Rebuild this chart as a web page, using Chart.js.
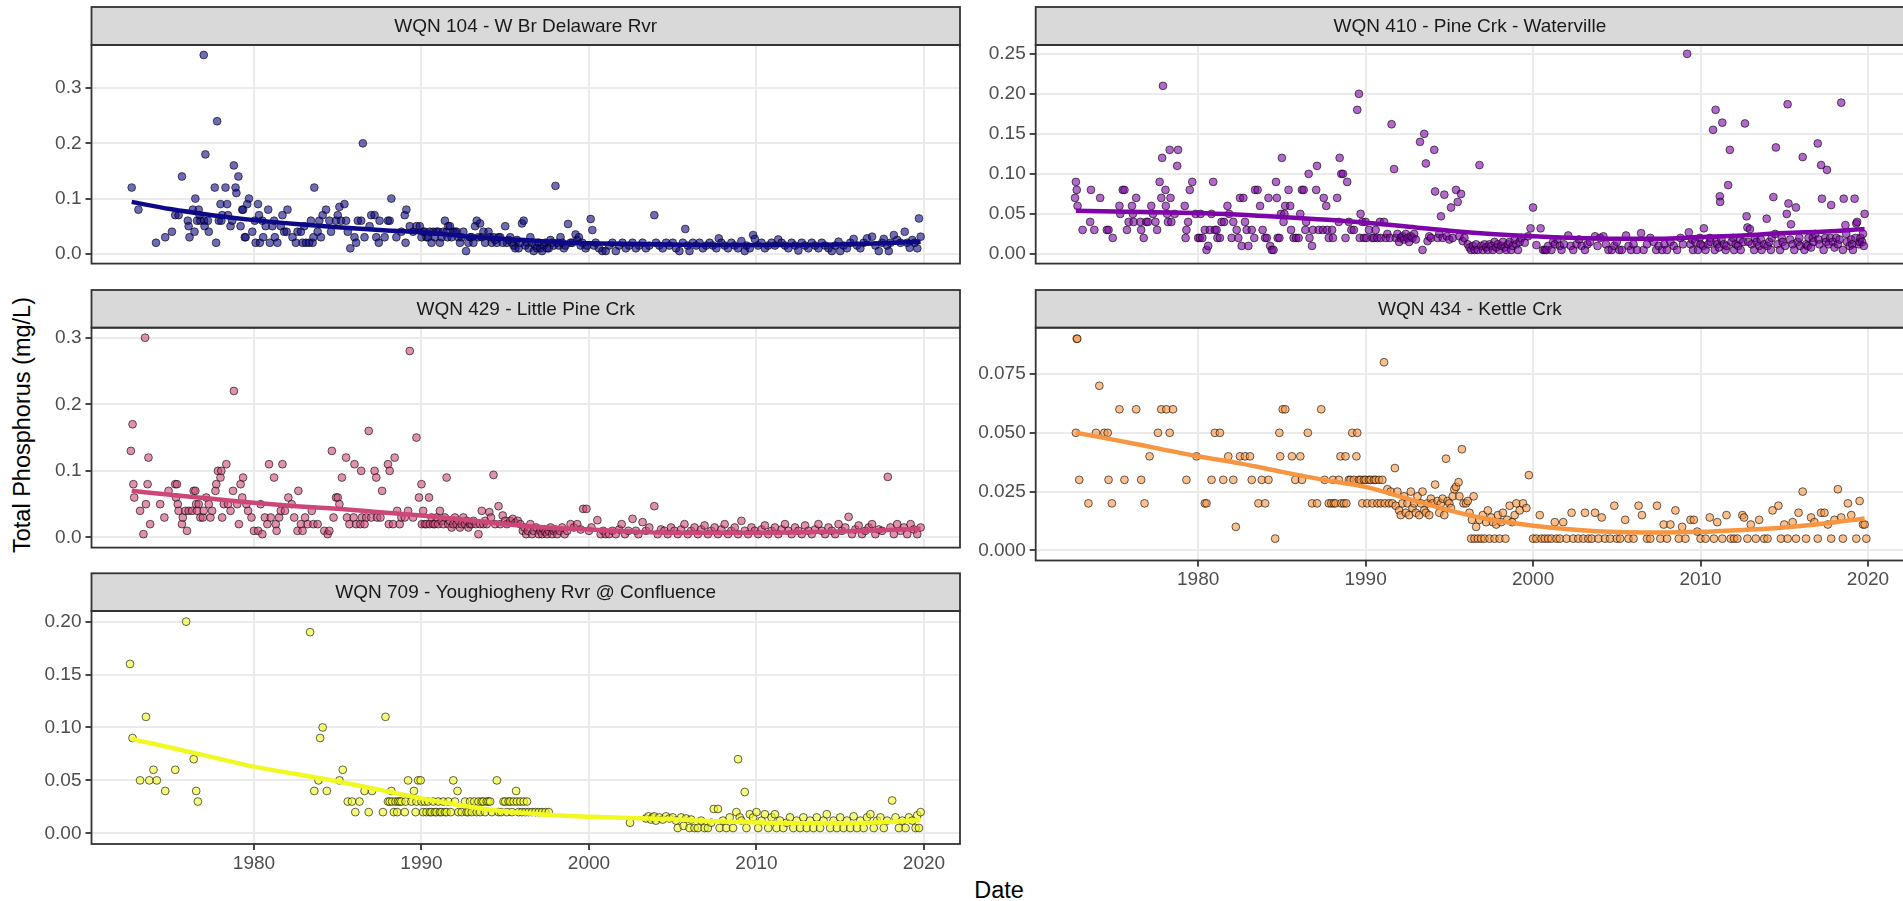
<!DOCTYPE html>
<html>
<head>
<meta charset="utf-8">
<title>Total Phosphorus by station</title>
<script src="https://cdn.jsdelivr.net/npm/chart.js@4.4.1/dist/chart.umd.min.js"></script>
<style>
  html, body { margin: 0; padding: 0; background: #ffffff; }
  #wrap { position: relative; width: 1903px; height: 901px; overflow: hidden; background: #ffffff; }
  #wrap canvas { position: absolute; }
  .axis-title { position: absolute; font-family: "Liberation Sans", Arial, sans-serif; font-size: 23.5px; color: #000000; text-align: center; white-space: nowrap; }
  #ytitle { left: -178px; top: 410px; width: 400px; height: 30px; line-height: 30px; transform: rotate(-90deg); }
  #xtitle { left: 899px; top: 875px; width: 200px; height: 30px; line-height: 30px; }
</style>
</head>
<body>
<div id="wrap">
  <div id="ytitle" class="axis-title">Total Phosphorus (mg/L)</div>
  <div id="xtitle" class="axis-title">Date</div>
</div>
<script>
// ---- Observations: [decimal year, total phosphorus mg/L] ----
const wqn104 = [[1972.7,.12],[1973.1,.08],[1974.15,.02],[1974.7,.03],[1975.1,.04],[1975.3,.07],[1975.5,.07],[1975.7,.14],[1976.05,.06],[1976.1,.05],[1976.15,.03],[1976.35,.08],[1976.45,.04],[1976.5,.10],[1976.6,.06],[1976.7,.08],[1976.75,.07],[1976.8,.06],[1977.0,.36],[1977.02,.06],[1977.05,.05],[1977.1,.18],[1977.25,.06],[1977.3,.04],[1977.66,.12],[1977.74,.02],[1977.8,.24],[1977.9,.06],[1978.0,.09],[1978.05,.06],[1978.1,.07],[1978.3,.12],[1978.4,.09],[1978.45,.07],[1978.6,.05],[1978.7,.06],[1978.8,.16],[1978.9,.12],[1978.95,.11],[1979.07,.14],[1979.2,.05],[1979.3,.08],[1979.35,.08],[1979.45,.03],[1979.5,.03],[1979.6,.09],[1979.7,.10],[1979.9,.04],[1980.05,.06],[1980.1,.02],[1980.24,.09],[1980.3,.07],[1980.35,.02],[1980.5,.06],[1980.55,.03],[1980.7,.05],[1980.85,.08],[1980.95,.02],[1981.1,.05],[1981.2,.06],[1981.25,.03],[1981.4,.02],[1981.6,.05],[1981.7,.07],[1981.8,.04],[1981.95,.04],[1982.0,.08],[1982.3,.03],[1982.5,.02],[1982.6,.04],[1982.8,.04],[1982.9,.02],[1983.0,.05],[1983.1,.02],[1983.3,.02],[1983.4,.06],[1983.5,.02],[1983.55,.03],[1983.6,.12],[1983.8,.04],[1983.9,.06],[1984.0,.03],[1984.1,.07],[1984.3,.08],[1984.5,.06],[1984.6,.04],[1984.9,.06],[1985.0,.07],[1985.1,.085],[1985.2,.06],[1985.4,.09],[1985.5,.06],[1985.6,.04],[1985.75,.01],[1986.0,.03],[1986.1,.02],[1986.2,.06],[1986.4,.06],[1986.5,.20],[1986.6,.03],[1986.9,.05],[1987.0,.07],[1987.2,.07],[1987.3,.03],[1987.45,.02],[1987.5,.06],[1987.8,.03],[1988.0,.06],[1988.1,.06],[1988.2,.10],[1988.5,.03],[1988.8,.04],[1989.0,.07],[1989.05,.02],[1989.1,.08],[1989.3,.05],[1989.5,.04],[1989.7,.05],[1989.9,.05],[1990.0,.03],[1990.1,.04],[1990.2,.04],[1990.3,.03],[1990.4,.03],[1990.5,.04],[1990.6,.02],[1990.7,.04],[1990.8,.03],[1990.9,.04],[1991.0,.04],[1991.1,.02],[1991.2,.03],[1991.3,.04],[1991.4,.06],[1991.5,.04],[1991.55,.03],[1991.6,.05],[1991.7,.05],[1991.8,.03],[1991.9,.04],[1992.0,.04],[1992.1,.04],[1992.2,.03],[1992.3,.02],[1992.4,.03],[1992.5,.04],[1992.66,.005],[1992.8,.02],[1992.9,.03],[1993.0,.03],[1993.1,.02],[1993.2,.05],[1993.3,.06],[1993.4,.03],[1993.5,.055],[1993.6,.03],[1993.7,.04],[1993.8,.02],[1994.0,.04],[1994.1,.03],[1994.2,.02],[1994.3,.03],[1994.4,.025],[1994.5,.02],[1994.6,.03],[1994.7,.03],[1994.85,.02],[1995.0,.05],[1995.1,.02],[1995.2,.025],[1995.3,.03],[1995.4,.02],[1995.5,.015],[1995.6,.01],[1995.7,.025],[1995.8,.01],[1995.9,.02],[1996.0,.055],[1996.1,.06],[1996.2,.015],[1996.3,.02],[1996.4,.01],[1996.5,.03],[1996.6,.02],[1996.7,.005],[1996.8,.015],[1996.9,.01],[1997.0,.02],[1997.1,.01],[1997.2,.005],[1997.3,.015],[1997.4,.02],[1997.5,.01],[1997.6,.01],[1997.7,.025],[1997.8,.02],[1997.9,.015],[1998.0,.123],[1998.1,.02],[1998.2,.015],[1998.3,.03],[1998.4,.02],[1998.5,.01],[1998.6,.015],[1998.75,.054],[1998.9,.02],[1999.0,.02],[1999.2,.035],[1999.3,.025],[1999.4,.03],[1999.5,.015],[1999.6,.02],[1999.8,.01],[1999.9,.015],[2000.1,.063],[2000.2,.043],[2000.3,.015],[2000.4,.02],[2000.6,.01],[2000.8,.005],[2001.0,.005],[2001.2,.015],[2001.4,.02],[2001.6,.005],[2001.8,.015],[2002.0,.02],[2002.2,.01],[2002.4,.015],[2002.6,.02],[2002.8,.01],[2003.0,.015],[2003.2,.02],[2003.4,.01],[2003.6,.015],[2003.9,.07],[2004.0,.02],[2004.2,.015],[2004.4,.01],[2004.6,.02],[2004.8,.015],[2005.0,.02],[2005.2,.01],[2005.4,.005],[2005.6,.02],[2005.75,.045],[2005.9,.015],[2006.0,.005],[2006.2,.02],[2006.4,.015],[2006.6,.02],[2006.8,.01],[2007.0,.015],[2007.2,.02],[2007.4,.015],[2007.6,.01],[2007.75,.028],[2007.9,.02],[2008.1,.015],[2008.3,.01],[2008.5,.02],[2008.7,.015],[2008.9,.01],[2009.1,.023],[2009.3,.005],[2009.4,.015],[2009.6,.01],[2009.8,.034],[2009.9,.027],[2010.1,.015],[2010.3,.02],[2010.5,.01],[2010.7,.015],[2010.9,.02],[2011.1,.015],[2011.3,.026],[2011.5,.02],[2011.7,.015],[2011.9,.01],[2012.1,.02],[2012.3,.015],[2012.5,.006],[2012.7,.02],[2012.9,.015],[2013.1,.01],[2013.3,.02],[2013.5,.015],[2013.7,.01],[2013.9,.02],[2014.1,.015],[2014.3,.01],[2014.5,.005],[2014.7,.015],[2014.9,.022],[2015.0,.005],[2015.2,.015],[2015.4,.01],[2015.6,.02],[2015.8,.027],[2016.0,.015],[2016.2,.01],[2016.4,.02],[2016.6,.028],[2016.9,.031],[2017.1,.015],[2017.3,.005],[2017.5,.02],[2017.6,.027],[2017.8,.015],[2017.9,.005],[2018.0,.02],[2018.2,.034],[2018.4,.025],[2018.6,.02],[2018.85,.04],[2019.0,.02],[2019.15,.011],[2019.3,.025],[2019.45,.02],[2019.6,.01],[2019.7,.064],[2019.8,.031]];

const wqn410 = [[1972.7,.09],[1972.75,.08],[1972.65,.07],[1972.8,.06],[1973.1,.03],[1973.55,.04],[1973.6,.08],[1973.8,.03],[1974.15,.07],[1974.55,.03],[1974.65,.03],[1974.9,.02],[1975.3,.06],[1975.35,.05],[1975.5,.08],[1975.6,.08],[1975.75,.03],[1975.85,.04],[1976.05,.06],[1976.1,.05],[1976.15,.04],[1976.3,.07],[1976.55,.04],[1976.6,.03],[1976.75,.02],[1976.9,.04],[1977.0,.04],[1977.2,.06],[1977.3,.05],[1977.45,.04],[1977.55,.03],[1977.7,.09],[1977.8,.07],[1977.85,.12],[1977.9,.21],[1978.05,.08],[1978.07,.06],[1978.15,.05],[1978.2,.04],[1978.3,.13],[1978.35,.07],[1978.4,.04],[1978.6,.05],[1978.75,.11],[1978.8,.13],[1979.2,.06],[1979.3,.03],[1979.25,.02],[1979.4,.04],[1979.5,.08],[1979.65,.09],[1979.85,.05],[1980.0,.02],[1980.1,.02],[1980.15,.05],[1980.25,.02],[1980.4,.03],[1980.5,.005],[1980.6,.01],[1980.7,.03],[1980.8,.05],[1980.9,.09],[1981.0,.03],[1981.1,.03],[1981.15,.02],[1981.3,.02],[1981.4,.04],[1981.55,.04],[1981.75,.06],[1981.85,.05],[1982.0,.02],[1982.1,.04],[1982.3,.03],[1982.4,.02],[1982.5,.07],[1982.6,.01],[1982.7,.07],[1982.8,.04],[1982.9,.03],[1983.0,.01],[1983.2,.03],[1983.35,.02],[1983.4,.08],[1983.55,.08],[1983.7,.06],[1983.85,.03],[1984.0,.02],[1984.1,.02],[1984.2,.07],[1984.3,.01],[1984.4,.005],[1984.5,.005],[1984.65,.09],[1984.7,.07],[1984.75,.02],[1984.85,.02],[1984.95,.05],[1985.0,.12],[1985.1,.04],[1985.15,.05],[1985.2,.06],[1985.4,.08],[1985.5,.06],[1985.55,.03],[1985.7,.02],[1985.85,.02],[1986.0,.02],[1986.1,.05],[1986.2,.08],[1986.3,.08],[1986.4,.03],[1986.45,.04],[1986.6,.10],[1986.65,.02],[1986.8,.01],[1986.85,.03],[1987.05,.08],[1987.1,.11],[1987.2,.03],[1987.45,.03],[1987.5,.07],[1987.65,.06],[1987.7,.03],[1987.8,.02],[1988.0,.03],[1988.05,.02],[1988.3,.07],[1988.4,.04],[1988.45,.12],[1988.55,.10],[1988.65,.10],[1988.8,.02],[1988.9,.09],[1989.0,.04],[1989.15,.03],[1989.3,.03],[1989.5,.18],[1989.6,.20],[1989.7,.05],[1989.65,.02],[1989.8,.04],[1989.9,.02],[1990.0,.04],[1990.05,.02],[1990.2,.03],[1990.4,.02],[1990.5,.02],[1990.6,.03],[1990.7,.02],[1990.85,.04],[1990.9,.02],[1991.1,.04],[1991.2,.02],[1991.3,.025],[1991.45,.02],[1991.55,.162],[1991.7,.106],[1991.8,.02],[1991.9,.025],[1992.0,.015],[1992.1,.02],[1992.2,.022],[1992.3,.018],[1992.4,.025],[1992.5,.02],[1992.6,.015],[1992.7,.022],[1992.8,.02],[1992.9,.025],[1993.0,.018],[1993.25,.14],[1993.4,.005],[1993.5,.15],[1993.6,.113],[1993.7,.016],[1993.8,.022],[1993.9,.02],[1994.1,.13],[1994.15,.078],[1994.3,.02],[1994.4,.025],[1994.5,.047],[1994.6,.02],[1994.7,.074],[1994.85,.022],[1995.0,.018],[1995.1,.058],[1995.2,.02],[1995.4,.08],[1995.5,.065],[1995.6,.022],[1995.7,.075],[1995.8,.016],[1995.9,.02],[1996.1,.012],[1996.2,.008],[1996.3,.005],[1996.4,.01],[1996.5,.005],[1996.6,.012],[1996.7,.005],[1996.8,.111],[1996.9,.01],[1997.0,.005],[1997.1,.012],[1997.2,.008],[1997.3,.005],[1997.4,.012],[1997.5,.01],[1997.6,.005],[1997.7,.015],[1997.8,.008],[1997.9,.012],[1998.0,.005],[1998.1,.01],[1998.2,.015],[1998.3,.008],[1998.4,.005],[1998.5,.012],[1998.6,.015],[1998.7,.005],[1998.8,.01],[1998.9,.018],[1999.0,.012],[1999.1,.005],[1999.2,.015],[1999.3,.02],[1999.5,.014],[1999.7,.022],[1999.85,.032],[2000.0,.058],[2000.2,.011],[2000.45,.032],[2000.6,.005],[2000.7,.005],[2000.8,.005],[2000.9,.01],[2001.1,.005],[2001.2,.015],[2001.3,.012],[2001.45,.018],[2001.6,.01],[2001.7,.005],[2001.85,.012],[2002.1,.023],[2002.25,.01],[2002.4,.005],[2002.6,.012],[2002.75,.018],[2002.9,.01],[2003.1,.005],[2003.25,.012],[2003.4,.015],[2003.7,.022],[2003.85,.01],[2004.0,.02],[2004.2,.022],[2004.35,.012],[2004.5,.005],[2004.7,.005],[2004.85,.01],[2005.0,.015],[2005.15,.005],[2005.3,.005],[2005.55,.023],[2005.7,.01],[2005.85,.005],[2006.0,.012],[2006.2,.005],[2006.45,.026],[2006.6,.005],[2006.8,.012],[2007.0,.02],[2007.2,.015],[2007.35,.005],[2007.5,.01],[2007.7,.005],[2007.85,.012],[2008.0,.005],[2008.2,.015],[2008.4,.01],[2008.6,.005],[2008.8,.02],[2008.95,.012],[2009.2,.25],[2009.3,.027],[2009.4,.012],[2009.5,.018],[2009.55,.005],[2009.7,.015],[2009.85,.005],[2009.95,.02],[2010.0,.012],[2010.15,.01],[2010.2,.032],[2010.3,.005],[2010.45,.012],[2010.55,.02],[2010.6,.015],[2010.75,.155],[2010.85,.005],[2010.9,.18],[2010.95,.015],[2011.0,.012],[2011.1,.008],[2011.15,.072],[2011.17,.065],[2011.25,.018],[2011.3,.164],[2011.4,.012],[2011.5,.005],[2011.55,.01],[2011.65,.086],[2011.75,.13],[2011.85,.015],[2011.95,.02],[2012.0,.005],[2012.1,.012],[2012.25,.01],[2012.35,.018],[2012.4,.005],[2012.55,.015],[2012.65,.163],[2012.75,.047],[2012.8,.033],[2012.85,.015],[2012.95,.031],[2013.05,.012],[2013.2,.005],[2013.25,.02],[2013.35,.015],[2013.5,.01],[2013.6,.018],[2013.65,.005],[2013.8,.012],[2013.95,.044],[2014.0,.01],[2014.1,.015],[2014.2,.005],[2014.25,.02],[2014.35,.071],[2014.45,.025],[2014.5,.133],[2014.6,.012],[2014.75,.005],[2014.85,.02],[2014.9,.015],[2015.05,.01],[2015.15,.05],[2015.2,.187],[2015.25,.063],[2015.35,.018],[2015.4,.037],[2015.5,.012],[2015.6,.005],[2015.7,.058],[2015.8,.015],[2015.9,.02],[2015.95,.01],[2016.1,.121],[2016.2,.005],[2016.3,.012],[2016.4,.01],[2016.45,.02],[2016.6,.008],[2016.7,.02],[2016.75,.015],[2016.85,.025],[2017.0,.138],[2017.05,.018],[2017.1,.012],[2017.2,.111],[2017.25,.069],[2017.35,.005],[2017.45,.02],[2017.5,.015],[2017.55,.105],[2017.65,.012],[2017.75,.02],[2017.8,.061],[2017.9,.015],[2018.0,.008],[2018.1,.02],[2018.2,.012],[2018.3,.018],[2018.4,.189],[2018.5,.005],[2018.55,.069],[2018.65,.036],[2018.7,.025],[2018.75,.015],[2018.9,.01],[2019.0,.018],[2019.05,.012],[2019.1,.005],[2019.2,.069],[2019.25,.02],[2019.3,.038],[2019.35,.04],[2019.45,.012],[2019.5,.015],[2019.55,.02],[2019.65,.015],[2019.7,.025],[2019.75,.01],[2019.8,.05]];

const wqn429 = [[1972.65,.13],[1972.75,.17],[1972.8,.08],[1972.85,.06],[1973.2,.04],[1973.4,.005],[1973.5,.30],[1973.55,.05],[1973.65,.08],[1973.7,.12],[1973.8,.02],[1974.4,.05],[1974.65,.03],[1974.9,.07],[1975.3,.08],[1975.4,.08],[1975.35,.06],[1975.45,.05],[1975.5,.04],[1975.7,.02],[1975.75,.03],[1976.0,.01],[1975.9,.04],[1976.1,.04],[1976.3,.04],[1976.4,.07],[1976.5,.07],[1976.55,.05],[1976.7,.05],[1976.6,.04],[1976.8,.03],[1976.95,.03],[1977.0,.04],[1977.15,.06],[1977.3,.05],[1977.4,.03],[1977.5,.04],[1977.7,.07],[1977.75,.08],[1977.85,.10],[1978.0,.09],[1978.05,.10],[1978.1,.03],[1978.2,.05],[1978.35,.11],[1978.45,.05],[1978.6,.04],[1978.75,.07],[1978.8,.22],[1979.0,.05],[1979.1,.02],[1979.2,.08],[1979.35,.09],[1979.3,.06],[1979.55,.05],[1979.65,.04],[1979.85,.03],[1980.0,.01],[1980.25,.01],[1980.4,.05],[1980.5,.005],[1980.65,.03],[1980.8,.02],[1980.9,.11],[1981.0,.03],[1981.2,.09],[1981.3,.02],[1981.35,.01],[1981.5,.03],[1981.6,.04],[1981.7,.11],[1981.85,.04],[1982.05,.06],[1982.25,.05],[1982.4,.03],[1982.6,.01],[1982.65,.07],[1982.8,.02],[1982.9,.01],[1983.05,.03],[1983.2,.02],[1983.45,.04],[1983.55,.02],[1983.8,.02],[1984.2,.01],[1984.4,.005],[1984.5,.01],[1984.65,.13],[1984.75,.03],[1984.9,.06],[1985.0,.06],[1985.1,.05],[1985.25,.09],[1985.5,.12],[1985.55,.03],[1985.7,.02],[1985.95,.03],[1986.0,.11],[1986.1,.02],[1986.35,.02],[1986.4,.10],[1986.45,.03],[1986.6,.02],[1986.7,.03],[1986.85,.16],[1987.0,.03],[1987.2,.10],[1987.3,.09],[1987.35,.03],[1987.55,.03],[1987.65,.07],[1988.0,.11],[1988.05,.02],[1988.1,.10],[1988.3,.02],[1988.4,.12],[1988.55,.04],[1988.7,.02],[1988.8,.03],[1989.0,.03],[1989.2,.04],[1989.3,.28],[1989.5,.03],[1989.7,.15],[1989.85,.06],[1990.0,.08],[1990.02,.02],[1990.1,.04],[1990.2,.02],[1990.3,.02],[1990.45,.06],[1990.5,.02],[1990.6,.03],[1990.7,.02],[1990.8,.02],[1990.9,.03],[1991.1,.04],[1991.0,.02],[1991.2,.025],[1991.3,.02],[1991.4,.03],[1991.5,.09],[1991.6,.02],[1991.7,.025],[1991.8,.015],[1991.9,.02],[1992.0,.03],[1992.1,.02],[1992.2,.025],[1992.3,.015],[1992.4,.02],[1992.5,.03],[1992.6,.02],[1992.7,.025],[1992.8,.015],[1992.9,.02],[1993.0,.02],[1993.1,.025],[1993.25,.02],[1993.4,.005],[1993.5,.02],[1993.6,.04],[1993.7,.02],[1993.8,.025],[1993.9,.02],[1994.05,.038],[1994.15,.03],[1994.3,.094],[1994.4,.02],[1994.6,.047],[1994.7,.02],[1994.85,.033],[1995.0,.025],[1995.1,.02],[1995.3,.025],[1995.45,.028],[1995.6,.022],[1995.75,.025],[1995.9,.02],[1996.05,.01],[1996.15,.015],[1996.25,.005],[1996.35,.01],[1996.5,.02],[1996.6,.005],[1996.7,.01],[1996.85,.015],[1997.0,.005],[1997.1,.01],[1997.2,.005],[1997.3,.012],[1997.4,.008],[1997.5,.005],[1997.6,.01],[1997.7,.015],[1997.8,.005],[1997.9,.01],[1998.0,.012],[1998.1,.005],[1998.25,.01],[1998.4,.015],[1998.55,.005],[1998.7,.01],[1998.9,.02],[1999.1,.015],[1999.3,.02],[1999.5,.012],[1999.65,.043],[1999.85,.043],[2000.0,.01],[2000.15,.015],[2000.5,.026],[2000.7,.005],[2000.85,.01],[2001.0,.005],[2001.2,.005],[2001.4,.01],[2001.6,.005],[2001.8,.012],[2001.95,.02],[2002.15,.005],[2002.35,.01],[2002.6,.028],[2002.8,.01],[2002.95,.005],[2003.2,.023],[2003.4,.01],[2003.6,.015],[2003.9,.047],[2004.1,.005],[2004.3,.012],[2004.5,.01],[2004.7,.005],[2004.9,.015],[2005.1,.01],[2005.3,.005],[2005.5,.012],[2005.7,.02],[2005.9,.005],[2006.1,.01],[2006.3,.015],[2006.5,.005],[2006.7,.012],[2006.9,.018],[2007.1,.005],[2007.3,.01],[2007.5,.015],[2007.7,.005],[2007.9,.012],[2008.1,.02],[2008.3,.005],[2008.5,.01],[2008.7,.015],[2008.9,.005],[2009.1,.025],[2009.3,.01],[2009.5,.005],[2009.7,.015],[2009.9,.01],[2010.1,.005],[2010.3,.012],[2010.5,.018],[2010.7,.005],[2010.9,.01],[2011.1,.015],[2011.3,.005],[2011.5,.012],[2011.7,.02],[2011.9,.01],[2012.1,.005],[2012.3,.015],[2012.5,.01],[2012.7,.005],[2012.9,.018],[2013.1,.01],[2013.3,.005],[2013.5,.012],[2013.7,.02],[2013.9,.01],[2014.1,.005],[2014.3,.015],[2014.5,.01],[2014.7,.005],[2014.9,.02],[2015.1,.01],[2015.3,.015],[2015.5,.031],[2015.7,.005],[2015.9,.012],[2016.1,.018],[2016.3,.005],[2016.5,.01],[2016.7,.015],[2016.9,.02],[2017.1,.005],[2017.3,.012],[2017.5,.01],[2017.84,.091],[2018.0,.015],[2018.2,.005],[2018.4,.02],[2018.6,.01],[2018.8,.015],[2019.0,.005],[2019.2,.02],[2019.4,.012],[2019.6,.005],[2019.8,.015]];

const wqn434 = [[1972.75,.09],[1972.78,.09],[1972.7,.05],[1972.9,.03],[1973.45,.02],[1973.9,.05],[1974.1,.07],[1974.4,.05],[1974.6,.05],[1974.65,.03],[1974.85,.02],[1975.3,.06],[1975.6,.03],[1976.3,.06],[1976.6,.03],[1976.8,.02],[1977.1,.04],[1977.6,.05],[1977.8,.06],[1978.1,.06],[1978.3,.05],[1978.5,.06],[1979.3,.03],[1979.9,.04],[1980.4,.02],[1980.5,.02],[1980.8,.03],[1981.0,.05],[1981.3,.05],[1981.5,.03],[1981.8,.04],[1982.1,.03],[1982.25,.01],[1982.5,.04],[1982.8,.04],[1983.1,.04],[1983.2,.03],[1983.6,.02],[1983.8,.03],[1984.0,.02],[1984.2,.03],[1984.6,.005],[1984.85,.05],[1984.9,.04],[1985.05,.06],[1985.2,.06],[1985.6,.04],[1985.8,.03],[1986.1,.04],[1986.2,.03],[1986.55,.05],[1986.8,.02],[1987.1,.02],[1987.35,.06],[1987.55,.03],[1987.8,.02],[1987.95,.02],[1988.05,.03],[1988.1,.02],[1988.2,.02],[1988.4,.03],[1988.5,.04],[1988.55,.02],[1988.7,.02],[1988.8,.04],[1988.85,.02],[1989.0,.03],[1989.1,.03],[1989.2,.05],[1989.3,.03],[1989.45,.04],[1989.5,.05],[1989.6,.03],[1989.7,.03],[1989.8,.02],[1989.9,.03],[1990.0,.03],[1990.1,.02],[1990.2,.03],[1990.3,.03],[1990.4,.02],[1990.5,.03],[1990.6,.03],[1990.7,.02],[1990.8,.03],[1990.9,.02],[1991.0,.03],[1991.1,.08],[1991.15,.02],[1991.3,.026],[1991.4,.02],[1991.5,.025],[1991.6,.02],[1991.75,.035],[1991.8,.019],[1991.9,.025],[1992.0,.017],[1992.1,.015],[1992.2,.02],[1992.3,.023],[1992.4,.016],[1992.5,.02],[1992.6,.015],[1992.7,.025],[1992.8,.018],[1992.9,.02],[1993.0,.016],[1993.1,.023],[1993.2,.015],[1993.3,.02],[1993.4,.025],[1993.5,.017],[1993.6,.016],[1993.7,.02],[1993.8,.015],[1993.9,.022],[1994.0,.02],[1994.15,.028],[1994.3,.021],[1994.4,.016],[1994.5,.02],[1994.6,.022],[1994.7,.015],[1994.8,.039],[1994.9,.021],[1995.0,.02],[1995.1,.018],[1995.2,.023],[1995.3,.026],[1995.4,.027],[1995.55,.029],[1995.6,.023],[1995.75,.043],[1995.85,.02],[1996.0,.02],[1996.1,.021],[1996.2,.016],[1996.3,.005],[1996.35,.013],[1996.45,.023],[1996.5,.005],[1996.6,.01],[1996.7,.005],[1996.8,.013],[1996.9,.005],[1997.0,.015],[1997.1,.005],[1997.2,.012],[1997.3,.017],[1997.4,.005],[1997.5,.014],[1997.6,.012],[1997.7,.005],[1997.8,.011],[1997.9,.015],[1998.0,.005],[1998.1,.012],[1998.2,.016],[1998.35,.005],[1998.45,.013],[1998.6,.019],[1998.75,.012],[1998.9,.015],[1999.0,.02],[1999.2,.017],[1999.4,.02],[1999.6,.018],[1999.75,.032],[2000.0,.005],[2000.2,.005],[2000.4,.015],[2000.5,.005],[2000.7,.005],[2000.9,.005],[2001.1,.005],[2001.3,.012],[2001.4,.005],[2001.6,.005],[2001.8,.012],[2002.0,.005],[2002.3,.016],[2002.4,.005],[2002.7,.005],[2003.0,.005],[2003.1,.016],[2003.3,.005],[2003.5,.005],[2003.7,.016],[2003.9,.005],[2004.1,.014],[2004.3,.005],[2004.6,.005],[2004.85,.019],[2005.0,.005],[2005.2,.005],[2005.5,.013],[2005.7,.005],[2006.0,.005],[2006.3,.019],[2006.5,.015],[2006.8,.005],[2007.0,.005],[2007.4,.019],[2007.6,.005],[2007.8,.011],[2008.0,.005],[2008.2,.011],[2008.5,.017],[2008.7,.005],[2008.9,.01],[2009.1,.005],[2009.4,.013],[2009.6,.013],[2009.8,.008],[2010.0,.005],[2010.3,.005],[2010.55,.014],[2010.8,.005],[2011.0,.012],[2011.3,.005],[2011.55,.015],[2011.8,.005],[2012.0,.005],[2012.2,.005],[2012.5,.015],[2012.6,.014],[2012.8,.005],[2013.0,.011],[2013.3,.005],[2013.5,.013],[2013.8,.005],[2014.0,.005],[2014.3,.017],[2014.65,.019],[2014.8,.005],[2015.0,.011],[2015.2,.005],[2015.5,.012],[2015.7,.005],[2015.85,.016],[2016.1,.025],[2016.3,.005],[2016.6,.014],[2016.8,.012],[2017.0,.005],[2017.2,.016],[2017.4,.016],[2017.6,.011],[2017.8,.005],[2018.0,.013],[2018.2,.026],[2018.4,.014],[2018.5,.005],[2018.8,.02],[2019.0,.015],[2019.3,.005],[2019.5,.021],[2019.7,.011],[2019.8,.011],[2019.9,.005]];

const wqn709 = [[1972.6,.16],[1972.75,.09],[1973.2,.05],[1973.55,.11],[1973.75,.05],[1974.0,.06],[1974.2,.05],[1974.7,.04],[1975.3,.06],[1975.95,.20],[1976.4,.07],[1976.55,.04],[1976.65,.03],[1983.35,.19],[1983.6,.04],[1983.85,.05],[1983.95,.09],[1984.1,.10],[1984.35,.04],[1985.1,.05],[1985.3,.06],[1985.6,.03],[1985.85,.03],[1986.05,.02],[1986.3,.03],[1986.6,.04],[1986.85,.02],[1987.05,.04],[1987.7,.02],[1987.85,.11],[1988.0,.03],[1988.1,.03],[1988.2,.04],[1988.25,.03],[1988.35,.02],[1988.45,.03],[1988.55,.02],[1988.6,.03],[1988.7,.03],[1988.8,.03],[1989.0,.02],[1989.05,.03],[1989.2,.05],[1989.4,.03],[1989.55,.04],[1989.65,.02],[1989.7,.03],[1989.8,.05],[1989.95,.05],[1990.0,.03],[1990.1,.02],[1990.2,.03],[1990.3,.02],[1990.4,.03],[1990.5,.02],[1990.6,.02],[1990.7,.03],[1990.8,.02],[1990.9,.02],[1991.0,.03],[1991.1,.02],[1991.2,.02],[1991.3,.03],[1991.4,.02],[1991.5,.02],[1991.6,.03],[1991.75,.02],[1991.9,.05],[1992.0,.03],[1992.15,.04],[1992.2,.02],[1992.4,.02],[1992.6,.03],[1992.7,.02],[1992.8,.02],[1992.9,.03],[1993.0,.02],[1993.15,.03],[1993.3,.02],[1993.4,.03],[1993.5,.02],[1993.6,.03],[1993.7,.03],[1993.8,.02],[1993.9,.03],[1994.0,.03],[1994.1,.03],[1994.2,.02],[1994.5,.05],[1994.6,.02],[1994.75,.02],[1994.9,.03],[1995.0,.03],[1995.1,.02],[1995.2,.03],[1995.3,.03],[1995.4,.02],[1995.5,.03],[1995.65,.04],[1995.7,.03],[1995.8,.02],[1995.9,.03],[1996.0,.02],[1996.1,.03],[1996.2,.02],[1996.3,.03],[1996.4,.02],[1996.6,.02],[1996.8,.02],[1997.0,.02],[1997.2,.02],[1997.4,.02],[1997.6,.02],[2002.45,.01],[2003.4,.014],[2003.55,.016],[2003.7,.013],[2003.8,.015],[2003.9,.016],[2004.0,.012],[2004.2,.015],[2004.4,.013],[2004.6,.016],[2004.8,.014],[2005.0,.015],[2005.2,.012],[2005.3,.005],[2005.5,.015],[2005.65,.007],[2005.8,.014],[2006.0,.005],[2006.1,.013],[2006.3,.005],[2006.5,.005],[2006.7,.012],[2006.9,.005],[2007.1,.005],[2007.3,.01],[2007.45,.023],[2007.7,.023],[2007.8,.005],[2008.0,.012],[2008.2,.005],[2008.4,.015],[2008.6,.005],[2008.8,.02],[2008.9,.07],[2009.0,.015],[2009.1,.012],[2009.3,.039],[2009.4,.005],[2009.6,.018],[2009.8,.015],[2010.0,.02],[2010.1,.005],[2010.3,.012],[2010.5,.018],[2010.7,.005],[2010.9,.015],[2011.1,.018],[2011.2,.005],[2011.4,.012],[2011.6,.005],[2011.8,.01],[2012.0,.015],[2012.2,.005],[2012.4,.012],[2012.6,.005],[2012.8,.015],[2013.0,.005],[2013.2,.012],[2013.4,.005],[2013.6,.015],[2013.8,.005],[2014.0,.012],[2014.2,.018],[2014.4,.005],[2014.6,.012],[2014.8,.005],[2015.0,.015],[2015.2,.005],[2015.4,.012],[2015.6,.005],[2015.8,.016],[2016.0,.005],[2016.2,.012],[2016.4,.005],[2016.6,.015],[2016.8,.018],[2017.0,.005],[2017.2,.012],[2017.4,.015],[2017.6,.005],[2017.8,.012],[2018.1,.031],[2018.3,.015],[2018.5,.005],[2018.7,.012],[2018.9,.005],[2019.1,.015],[2019.3,.012],[2019.5,.005],[2019.6,.017],[2019.7,.005],[2019.8,.02]];

// ---- Smoothed trend (loess) for each station ----
const fit104 = [[1972.7,.094],[1975,.081],[1977.5,.070],[1980,.061],[1982.5,.054],[1985,.048],[1987.5,.043],[1990,.039],[1992.5,.032],[1995,.027],[1997.5,.022],[2000,.019],[2002.5,.018],[2005,.017],[2007.5,.016],[2010,.016],[2012.5,.016],[2015,.017],[2017.5,.019],[2019.8,.022]];
const fit410 = [[1972.7,.054],[1975,.053],[1980,.051],[1985,.046],[1990,.039],[1993,.033],[1995,.029],[1997.5,.025],[2000,.022],[2002.5,.020],[2005,.019],[2007.5,.019],[2010,.021],[2012.5,.023],[2015,.026],[2017.5,.028],[2019.8,.031]];
const fit429 = [[1972.7,.070],[1975,.064],[1977.5,.058],[1980,.052],[1982.5,.047],[1985,.043],[1987.5,.038],[1990,.033],[1992.5,.027],[1995,.020],[1997.5,.015],[2000,.012],[2002.5,.009],[2005,.007],[2007.5,.007],[2010,.007],[2012.5,.008],[2015,.009],[2017.5,.011],[2019.8,.013]];
const fit434 = [[1972.7,.050],[1975,.047],[1977.5,.0435],[1980,.040],[1982.5,.037],[1985,.0334],[1987.5,.030],[1990,.027],[1992.5,.022],[1995,.017],[1997.5,.013],[2000,.0105],[2002.5,.0088],[2005,.0078],[2007.5,.0076],[2010,.0079],[2012.5,.0087],[2015,.0097],[2017.5,.0115],[2019.8,.0136]];
const fit709 = [[1972.7,.089],[1975,.081],[1977.5,.072],[1980,.063],[1982.5,.056],[1985,.049],[1987.5,.041],[1990,.033],[1992.5,.026],[1995,.0205],[1997.5,.0175],[2000,.0157],[2002.5,.0145],[2005,.0132],[2007.5,.0115],[2010,.0102],[2012.5,.0096],[2015,.0096],[2017.5,.0105],[2019.8,.0126]];

// ---- Axis breaks ----
const yearTicks = [1980, 1990, 2000, 2010, 2020];

// ---- Facet layout (page pixels) ----
const FONT = '"Liberation Sans", Arial, Helvetica, sans-serif';
const X_MIN = 1970.3, X_MAX = 2022.15;

const panels = [
  { label: 'WQN 104 - W Br Delaware Rvr', obs: wqn104, fit: fit104, line: '#0D0887', fill: 'rgba(13,8,135,0.6)',
    yMin: -0.0177, yMax: 0.378, yStep: 0.1, digits: 1, xLabels: false,
    stripTop: 7, plotTop: 45, plotBottom: 277, plotLeft: 91.5, plotRight: 962.7 },
  { label: 'WQN 410 - Pine Crk - Waterville', obs: wqn410, fit: fit410, line: '#7E03A8', fill: 'rgba(126,3,168,0.6)',
    yMin: -0.0121, yMax: 0.261, yStep: 0.05, digits: 2, xLabels: false,
    stripTop: 7, plotTop: 45, plotBottom: 277, plotLeft: 1035.7, plotRight: 1907 },
  { label: 'WQN 429 - Little Pine Crk', obs: wqn429, fit: fit429, line: '#CC4778', fill: 'rgba(204,71,120,0.6)',
    yMin: -0.0152, yMax: 0.315, yStep: 0.1, digits: 1, xLabels: false,
    stripTop: 290, plotTop: 327.7, plotBottom: 560.5, plotLeft: 91.5, plotRight: 962.7 },
  { label: 'WQN 434 - Kettle Crk', obs: wqn434, fit: fit434, line: '#F89540', fill: 'rgba(248,149,64,0.6)',
    yMin: -0.0043, yMax: 0.0947, yStep: 0.025, digits: 3, xLabels: true,
    stripTop: 290, plotTop: 327.7, plotBottom: 560.5, plotLeft: 1035.7, plotRight: 1907 },
  { label: 'WQN 709 - Youghiogheny Rvr @ Confluence', obs: wqn709, fit: fit709, line: '#F0F921', fill: 'rgba(240,249,33,0.6)',
    yMin: -0.0101, yMax: 0.210, yStep: 0.05, digits: 2, xLabels: true,
    stripTop: 573.3, plotTop: 611, plotBottom: 844, plotLeft: 91.5, plotRight: 962.7 }
];

// Grey strip with the station name plus the dark frame round each panel
const facetFrame = {
  id: 'facetFrame',
  afterDraw(chart, args, opts) {
    const { ctx, chartArea: a } = chart;
    const w = a.right - a.left;
    ctx.save();
    ctx.fillStyle = '#D9D9D9';
    ctx.fillRect(a.left, a.top - opts.stripH, w, opts.stripH);
    ctx.strokeStyle = '#333333';
    ctx.lineWidth = 1.8;
    ctx.strokeRect(a.left, a.top - opts.stripH, w, opts.stripH);
    ctx.fillStyle = '#1A1A1A';
    ctx.font = '19px ' + FONT;
    ctx.textAlign = 'center';
    ctx.textBaseline = 'middle';
    ctx.fillText(opts.label, a.left + w / 2, a.top - opts.stripH / 2 + 1);
    ctx.strokeRect(a.left, a.top, w, a.bottom - a.top);
    ctx.restore();
  }
};

Chart.defaults.font.family = FONT;
Chart.defaults.color = '#4D4D4D';

const wrap = document.getElementById('wrap');

panels.forEach((p, i) => {
  const axisW = p.plotLeft < 500 ? 60 : 70;
  const cl = Math.floor(p.plotLeft - axisW);
  const ct = Math.floor(p.stripTop - 2);
  const xh = p.xLabels ? 40 : 0;
  const w = Math.ceil(p.plotRight - cl + 2);
  const h = Math.ceil(p.plotBottom - ct + xh + 2);
  const canvas = document.createElement('canvas');
  canvas.width = w; canvas.height = h;
  canvas.style.left = cl + 'px';
  canvas.style.top = ct + 'px';
  canvas.style.width = w + 'px';
  canvas.style.height = h + 'px';
  wrap.appendChild(canvas);

  const padTop = p.plotTop - ct;
  const padRight = w - (p.plotRight - cl);
  const padBottom = h - (p.plotBottom - ct) - xh;
  const yLeftW = p.plotLeft - cl;

  new Chart(canvas, {
    type: 'scatter',
    data: {
      datasets: [
        {
          type: 'line',
          label: 'trend',
          data: p.fit.map(([x, y]) => ({ x, y })),
          borderColor: p.line,
          borderWidth: 4.5,
          pointRadius: 0,
          fill: false,
          tension: 0.4,
          cubicInterpolationMode: 'monotone',
          order: 0
        },
        {
          type: 'scatter',
          label: 'samples',
          data: p.obs.map(([x, y]) => ({ x, y })),
          pointRadius: 3.9,
          pointBorderWidth: 1,
          pointBackgroundColor: p.fill,
          pointBorderColor: 'rgba(0,0,0,0.6)',
          order: 1
        }
      ]
    },
    options: {
      responsive: false,
      animation: false,
      devicePixelRatio: 1,
      layout: { padding: { top: padTop, right: padRight, bottom: padBottom, left: 0 } },
      plugins: {
        legend: { display: false },
        tooltip: { enabled: false },
        facetFrame: { label: p.label, stripH: p.plotTop - p.stripTop }
      },
      scales: {
        x: {
          type: 'linear',
          min: X_MIN,
          max: X_MAX,
          afterBuildTicks(scale) { scale.ticks = yearTicks.map(v => ({ value: v })); },
          afterFit(scale) { scale.height = xh; },
          border: { display: false },
          grid: { color: '#EBEBEB', lineWidth: 2, drawTicks: p.xLabels, tickLength: 6, tickColor: '#333333', tickWidth: 1.8 },
          ticks: { display: p.xLabels, padding: 2, maxRotation: 0, autoSkip: false, color: '#4D4D4D', font: { size: 19 }, callback: v => String(v) }
        },
        y: {
          type: 'linear',
          min: p.yMin,
          max: p.yMax,
          afterFit(scale) { scale.width = yLeftW; },
          border: { display: false },
          grid: { color: '#EBEBEB', lineWidth: 2, drawTicks: true, tickLength: 6, tickColor: '#333333', tickWidth: 1.8 },
          ticks: { stepSize: p.yStep, includeBounds: false, padding: 4, color: '#4D4D4D', font: { size: 19 }, callback: v => Number(v).toFixed(p.digits) }
        }
      }
    },
    plugins: [facetFrame]
  });
});
</script>
</body>
</html>
